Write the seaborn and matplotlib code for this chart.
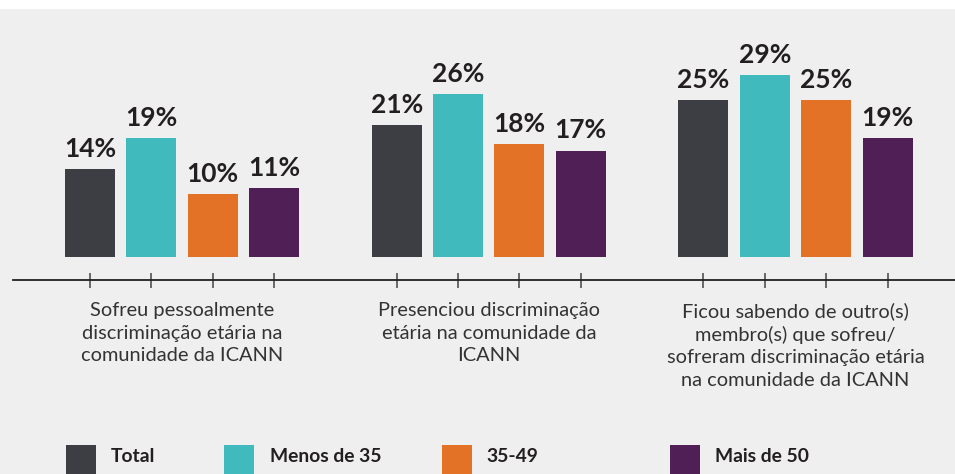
import matplotlib
matplotlib.use("Agg")
import matplotlib.pyplot as plt
from matplotlib.patches import Rectangle
import seaborn as sns
import pandas as pd

categories = [
    "Sofreu pessoalmente\ndiscriminação etária na\ncomunidade da ICANN",
    "Presenciou discriminação\netária na comunidade da\nICANN",
    "Ficou sabendo de outro(s)\nmembro(s) que sofreu/\nsofreram discriminação etária\nna comunidade da ICANN",
]
groups = ["Total", "Menos de 35", "35-49", "Mais de 50"]
total = [14, 21, 25]
menos_35 = [19, 26, 29]
de_35_49 = [10, 18, 25]
mais_50 = [11, 17, 19]
colors = ["#3d3e44", "#40babd", "#e37226", "#4f1f55"]

series = [total, menos_35, de_35_49, mais_50]
rows = []
for g, vals in zip(groups, series):
    for c, v in zip(categories, vals):
        rows.append({"cat": c, "group": g, "val": v})
df = pd.DataFrame(rows)

sns.set_style("white")
plt.rcParams["font.family"] = ["Lato", "DejaVu Sans"]

W, H = 955, 474
fig = plt.figure(figsize=(W / 100, H / 100), dpi=100, facecolor="white")
fig.add_artist(Rectangle((0, 0), 1, (H - 9) / H, transform=fig.transFigure,
                         facecolor="#efefef", edgecolor="none", zorder=-10))

ax_left, ax_right, ax_top, ax_bot = 13, 955, 9, 280
ax = fig.add_axes([ax_left / W, (H - ax_bot) / H, (ax_right - ax_left) / W, (ax_bot - ax_top) / H])
ax.set_facecolor("none")

sns.barplot(data=df, x="cat", y="val", hue="group", hue_order=groups,
            palette=colors, saturation=1, width=0.8, gap=0.185,
            errorbar=None, legend=False, ax=ax, linewidth=0)

for cont in ax.containers:
    ax.bar_label(cont, fmt="%g%%", padding=6, fontsize=19, fontweight="bold",
                 color="#231f20")

ax.set_xlim(-0.551, 2.52)
ax.set_ylim(-3.67, 39.6)
ax.set_xlabel("")
ax.set_ylabel("")
ax.set_yticks([])

centers = [p.get_x() + p.get_width() / 2 for p in ax.patches]
ax.set_xticks(centers, minor=True)
ax.tick_params(axis="x", which="minor", bottom=True, direction="inout", length=10.8,
               width=1.1, color="#444444")
ax.tick_params(axis="x", which="major", bottom=True, length=0, pad=16, labelsize=14.4,
               labelcolor="#333333")
for lbl in ax.get_xticklabels():
    lbl.set_linespacing(1.38)

for s in ["top", "left", "right"]:
    ax.spines[s].set_visible(False)
ax.spines["bottom"].set_color("#231f20")
ax.spines["bottom"].set_linewidth(1.3)

# legend
leg_sq_x = [66, 224, 442, 670]
leg_txt_x = [111, 270, 486, 715]
for g, c, sx, tx in zip(groups, colors, leg_sq_x, leg_txt_x):
    fig.add_artist(Rectangle((sx / W, (H - 475) / H), 30 / W, 30 / H,
                             transform=fig.transFigure, facecolor=c,
                             edgecolor="none"))
    fig.text(tx / W, (H - 456) / H, g, fontsize=13.9, fontweight="bold",
             color="#231f20", va="center", ha="left")

fig.savefig("out.png", dpi=100, facecolor=fig.get_facecolor())
